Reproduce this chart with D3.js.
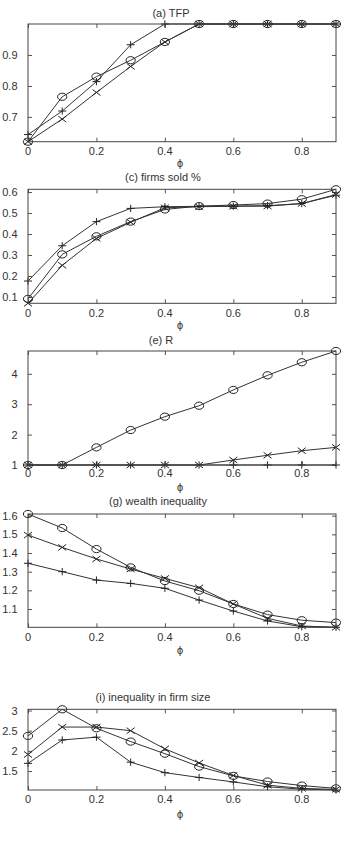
<!DOCTYPE html>
<html>
<head>
<script src="https://d3js.org/d3.v7.min.js"></script>
<style>
  body { margin: 0; background: #fff; }
  text { font-family: "Liberation Sans", Arial, sans-serif; font-size: 11px; fill: #333; }
</style>
</head>
<body>
<div id="viz"></div>
<script type="text/javascript">
// phi values, shared by every panel
var phi = [0, 0.1, 0.2, 0.3, 0.4, 0.5, 0.6, 0.7, 0.8, 0.9];
var xTicks = [0, 0.2, 0.4, 0.6, 0.8];

// (a) TFP
var tfpCircle = [0.62, 0.765, 0.83, 0.883, 0.942, 1, 1, 1, 1, 1];
var tfpPlus   = [0.643, 0.719, 0.814, 0.933, 1, 1, 1, 1, 1, 1];
var tfpCross  = [0.62, 0.693, 0.779, 0.863, 0.942, 1, 1, 1, 1, 1];
var tfpTicks  = [0.7, 0.8, 0.9];

// (c) firms sold %
var soldCircle = [0.091, 0.303, 0.389, 0.459, 0.517, 0.533, 0.538, 0.545, 0.566, 0.613];
var soldPlus   = [0.176, 0.344, 0.459, 0.522, 0.53, 0.532, 0.533, 0.535, 0.545, 0.585];
var soldCross  = [0.07, 0.251, 0.379, 0.456, 0.525, 0.53, 0.532, 0.533, 0.545, 0.588];
var soldTicks  = [0.1, 0.2, 0.3, 0.4, 0.5, 0.6];

// (e) R
var rCircle = [1, 1, 1.58, 2.15, 2.59, 2.95, 3.47, 3.95, 4.38, 4.75];
var rPlus   = [1, 1, 1, 1, 1, 1, 1, 1, 1, 1];
var rCross  = [1, 1, 1, 1, 1, 1, 1.165, 1.32, 1.47, 1.58];
var rTicks  = [1, 2, 3, 4];

// (g) wealth inequality
var wealthCircle = [1.609, 1.534, 1.421, 1.323, 1.25, 1.198, 1.127, 1.07, 1.04, 1.027];
var wealthPlus   = [1.345, 1.30, 1.255, 1.237, 1.211, 1.148, 1.089, 1.036, 1.005, 1.002];
var wealthCross  = [1.496, 1.43, 1.368, 1.314, 1.264, 1.214, 1.127, 1.05, 1.009, 1.002];
var wealthTicks  = [1.1, 1.2, 1.3, 1.4, 1.5, 1.6];

// (i) inequality in firm size
var sizeCircle = [2.37, 3.03, 2.56, 2.23, 1.93, 1.61, 1.38, 1.24, 1.14, 1.07];
var sizePlus   = [1.69, 2.27, 2.34, 1.72, 1.46, 1.34, 1.23, 1.11, 1.05, 1.03];
var sizeCross  = [1.91, 2.59, 2.59, 2.5, 2.05, 1.70, 1.39, 1.15, 1.07, 1.045];
var sizeTicks  = [1.5, 2, 2.5, 3];

var width = 349, height = 842;
var left = 28, right = 336;

var panels = [
  {title: "(a) TFP", titleX: 171, titleY: 16.5, top: 24, bottom: 141.7, labelY: 155, phiY: 167,
   ticks: tfpTicks, circle: tfpCircle, plus: tfpPlus, cross: tfpCross},
  {title: "(c) firms sold %", titleX: 163, titleY: 181, top: 189.3, bottom: 303.3, labelY: 317, phiY: 329,
   ticks: soldTicks, circle: soldCircle, plus: soldPlus, cross: soldCross},
  {title: "(e) R", titleX: 161, titleY: 343.5, top: 351, bottom: 465, labelY: 477, phiY: 491,
   ticks: rTicks, circle: rCircle, plus: rPlus, cross: rCross},
  {title: "(g) wealth inequality", titleX: 158, titleY: 505, top: 514, bottom: 627.3, labelY: 641, phiY: 654,
   ticks: wealthTicks, circle: wealthCircle, plus: wealthPlus, cross: wealthCross},
  {title: "(i) inequality in firm size", titleX: 153, titleY: 700.5, top: 709.3, bottom: 790, labelY: 803, phiY: 818,
   ticks: sizeTicks, circle: sizeCircle, plus: sizePlus, cross: sizeCross}
];

var svg = d3.select("#viz").append("svg")
  .attr("width", width)
  .attr("height", height);

var x = d3.scaleLinear().domain(d3.extent(phi)).range([left, right]);

panels.forEach(function(p) {
  var all = p.circle.concat(p.plus, p.cross);
  var y = d3.scaleLinear().domain(d3.extent(all)).range([p.bottom, p.top]);
  var g = svg.append("g");

  // title
  g.append("text").attr("x", p.titleX).attr("y", p.titleY)
    .attr("text-anchor", "middle").text(p.title);

  // axes, with inward ticks on all four sides (gnuplot style)
  var tickLen = 4;
  g.append("g").attr("transform", "translate(0," + p.bottom + ")")
    .call(d3.axisBottom(x).tickValues(xTicks).tickSize(-tickLen).tickPadding(0).tickFormat(""))
    .call(styleAxis);
  g.append("g").attr("transform", "translate(0," + p.top + ")")
    .call(d3.axisTop(x).tickValues(xTicks).tickSize(-tickLen).tickFormat(""))
    .call(styleAxis);
  g.append("g").attr("transform", "translate(" + left + ",0)")
    .call(d3.axisLeft(y).tickValues(p.ticks).tickSize(-tickLen).tickFormat(""))
    .call(styleAxis);
  g.append("g").attr("transform", "translate(" + right + ",0)")
    .call(d3.axisRight(y).tickValues(p.ticks).tickSize(-tickLen).tickFormat(""))
    .call(styleAxis);

  // tick labels
  g.selectAll(".xl").data(xTicks).enter().append("text")
    .attr("x", function(d) { return x(d); })
    .attr("y", p.labelY)
    .attr("text-anchor", "middle")
    .text(function(d) { return d3.format("")(d); });
  g.selectAll(".yl").data(p.ticks).enter().append("text")
    .attr("x", 17.5)
    .attr("y", function(d) { return y(d) + 4; })
    .attr("text-anchor", "end")
    .text(function(d) { return d3.format("")(d); });

  g.append("text").attr("x", 180).attr("y", p.phiY)
    .attr("text-anchor", "middle").style("font-family", "DejaVu Sans").style("font-size", "10px")
    .text("\u03D5");

  var line = d3.line()
    .x(function(d, i) { return x(phi[i]); })
    .y(function(d) { return y(d); });

  [p.circle, p.plus, p.cross].forEach(function(s) {
    g.append("path").attr("d", line(s))
      .attr("fill", "none").attr("stroke", "#333").attr("stroke-width", 1);
  });

  // circles
  g.selectAll(".c").data(p.circle).enter().append("ellipse")
    .attr("cx", function(d, i) { return x(phi[i]); })
    .attr("cy", function(d) { return y(d); })
    .attr("rx", 4.6).attr("ry", 3.6)
    .attr("fill", "none").attr("stroke", "#222").attr("stroke-width", 1);

  // plus markers
  g.selectAll(".p").data(p.plus).enter().append("path")
    .attr("d", function(d, i) {
      var cx = x(phi[i]), cy = y(d);
      return "M" + (cx - 4) + "," + cy + "H" + (cx + 4) + "M" + cx + "," + (cy - 3.6) + "V" + (cy + 3.6);
    })
    .attr("stroke", "#222").attr("stroke-width", 1).attr("fill", "none");

  // cross markers
  g.selectAll(".x").data(p.cross).enter().append("path")
    .attr("d", function(d, i) {
      var cx = x(phi[i]), cy = y(d);
      return "M" + (cx - 4) + "," + (cy - 3) + "L" + (cx + 4) + "," + (cy + 3) +
             "M" + (cx - 4) + "," + (cy + 3) + "L" + (cx + 4) + "," + (cy - 3);
    })
    .attr("stroke", "#222").attr("stroke-width", 1).attr("fill", "none");

  // frame
  g.append("rect").attr("x", left).attr("y", p.top)
    .attr("width", right - left).attr("height", p.bottom - p.top)
    .attr("fill", "none").attr("stroke", "#444").attr("stroke-width", 1);
});

function styleAxis(sel) {
  sel.select(".domain").remove();
  sel.selectAll(".tick line").attr("stroke", "#555");
}
</script>
</body>
</html>
